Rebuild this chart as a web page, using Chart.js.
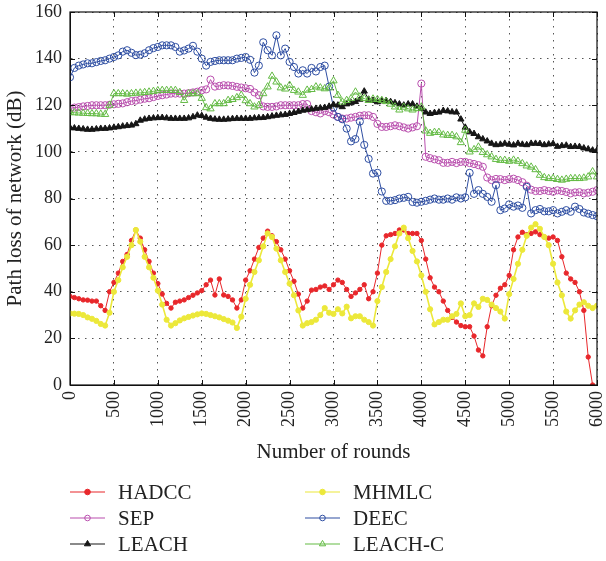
<!DOCTYPE html>
<html>
<head>
  <meta charset="utf-8">
  <title>Path loss of network</title>
  <script src="https://cdn.jsdelivr.net/npm/chart.js"></script>
  <style>
    html, body { margin: 0; padding: 0; background: #fff; }
    canvas { display: block; }
  </style>
</head>
<body>
  <canvas id="lossChart" width="606" height="561"></canvas>

  <script>
    // Sample rounds, one reading every 50 rounds
    const rounds = Array.from({ length: 121 }, (_, i) => i * 50);
    const xTicks = [0, 500, 1000, 1500, 2000, 2500, 3000, 3500, 4000, 4500, 5000, 5500, 6000];
    const yTicks = [0, 20, 40, 60, 80, 100, 120, 140, 160];

    const hadcc = [
      38, 37.5, 37, 36.5, 36.4, 36, 36, 34, 32, 40,
      44, 48, 53, 56, 62, 66.5, 63, 58, 53, 48,
      43.5, 39, 35, 33, 35.5, 36, 36.5, 37.5, 38.5, 39.5,
      40.5, 43, 45, 38.6, 45.5, 38.6, 38, 36.5, 33, 36.5,
      45, 49, 54, 59, 63, 66, 64, 61.5, 58, 54,
      49, 44.5, 39, 33, 36, 40.7, 41, 42, 42.5, 41,
      43, 45, 44, 41, 38, 39.5, 41, 43, 37, 40,
      48, 60, 64, 64.5, 65, 66.5, 66.5, 65, 65, 65,
      62, 54, 46, 42, 40, 36, 32, 29, 27, 25.5,
      25, 25, 21, 15, 12.5, 25, 34, 38.5, 41.5, 43,
      47, 58, 63.5, 65.5, 64.5, 65, 65.7, 64.5, 63.5, 63,
      63.5, 62, 55, 48, 45.5, 44, 40, 32, 12, 0
    ];

    const mhmlc = [
      30.7, 30.6, 30.5, 30, 29, 28.4, 27.5, 26.2, 25.5, 31,
      40, 45, 50.5, 55, 60, 66.5, 61.5, 55, 50.5, 46,
      40.5, 34.5, 28, 25.5, 26.5, 27.7, 28.6, 29.2, 29.8, 30.3,
      30.7, 30.5, 30, 29.5, 29, 28.3, 27.6, 26.8, 24.5, 29.3,
      37, 43, 48.5, 53.5, 59.5, 65, 63.5, 58.5, 53.5, 48.5,
      43.5, 38.5, 32, 25.5, 26.5, 27, 28, 30, 33, 31,
      30.5, 32.5, 30.7, 33.6, 28.6, 29.5, 29.5, 28, 27, 25.5,
      36, 42, 48.5, 54, 59.5, 65, 67.5, 63, 57.5, 53,
      47, 40, 32.5, 26, 27, 28, 28, 29.5, 30.5, 35,
      29.5, 30, 35, 33.5, 37, 36.5, 34.5, 33, 31.5, 28.5,
      39, 45.5, 52, 58, 64, 67.5, 69, 67, 63.5, 60,
      52, 44, 38.5, 31.5, 28.5, 32, 34.5, 35.5, 34, 33,
      34
    ];

    const sep = [
      118.6, 119, 119.2, 119.5, 119.7, 120, 120, 120, 120, 120.2,
      120.4, 120.6, 120.8, 121.3, 121.8, 122, 122.4, 122.8, 123, 123.5,
      124, 124.3, 124.6, 125, 125, 125, 125, 125.2, 125.5, 125.8,
      126.4, 126.8, 131, 128, 128.3, 128.6, 128.5, 128.3, 127.9, 127.6,
      127.3, 127, 125.5, 124.3, 119.5, 119.3, 119.3, 119.5, 120, 120,
      120, 120, 120, 120.5, 120.5, 117.5, 117, 116.5, 117.5, 117,
      116, 115, 114.3, 114.3, 114.7, 115, 115.5, 115.7, 115.7, 115,
      112, 110.7, 110.7, 111, 111.4, 111, 110.5, 110, 110.5, 111,
      129.3, 97.9, 97.3, 96.8, 96.4, 95.3, 95.3, 95.7, 95.2, 95.7,
      95.7, 95.2, 94.8, 94.3, 93.6, 89, 87.9, 88.4, 88.3, 87.9,
      88.3, 88.5, 87.9, 87, 85.5, 83.8, 83.2, 83.2, 83.6, 83.2,
      82.9, 83.5, 83.2, 82.8, 82.2, 82.6, 82.7, 82.2, 82.5, 82.9,
      83.6
    ];

    const deec = [
      132, 136, 137, 137.5, 138, 138, 138.5, 139, 139.3, 140,
      140.7, 141.4, 143, 143.6, 142.5, 141.5, 141.7, 142.3, 143.6, 144.5,
      145, 145.7, 145.7, 145.7, 145, 143, 143.5, 144.3, 145.5, 143,
      140, 137, 138.6, 139, 139.3, 139.3, 139.3, 139.3, 140, 140.3,
      140.7, 139.5, 134, 137, 147, 143.6, 141.4, 150, 141.4, 144.3,
      138.6, 136.4, 133.6, 135, 133.6, 136, 134.5, 136.4, 137, 128,
      119, 115, 114, 110, 104.5, 105.5, 113, 103, 97, 90.7,
      91, 83, 79, 79, 79.3, 80, 80.3, 80.7, 78.5, 78.2,
      78.6, 79, 79.5, 80, 79.5, 79.5, 80, 79.5, 80.5, 80,
      80.5, 91, 82, 83.6, 82, 80.7, 78.6, 85.7, 75, 75.7,
      77.5, 76.5, 77, 76, 85, 73.6, 75, 75.5, 74.5, 74.5,
      75, 73.6, 74.3, 75, 74.3, 76.5, 75.5, 74, 73.5, 72.9,
      72.4
    ];

    const leach = [
      110.4, 110.2, 110, 109.8, 109.6, 109.6, 109.8, 110, 110, 110.2,
      110.5, 110.7, 111, 111.2, 111.4, 112, 113.5, 114, 114.3, 114.5,
      114.6, 114.7, 114.5, 114.3, 114.3, 114.3, 114.3, 114.5, 115, 115.7,
      115.5, 114.8, 114.3, 114, 113.9, 113.9, 114, 114.2, 114.3, 114.3,
      114.3, 114.3, 114.5, 114.6, 114.7, 115, 115.3, 115.6, 115.8, 116,
      116.4, 116.8, 117.3, 117.8, 118, 118.3, 118.6, 118.8, 119, 119.5,
      120.3, 120, 119.3, 120.5, 121, 121.5, 122.5, 126, 122.5, 122,
      121.4, 121.8, 122, 121.5, 121, 120.5, 120, 120.5, 120.5, 119.5,
      118.5, 117, 116.4, 116.8, 117, 117.7, 117.5, 117.1, 117, 114,
      110.5, 108.5, 107.8, 106.4, 105.5, 104.6, 103.6, 103, 103.2, 103.6,
      103.2, 102.9, 103.6, 103.2, 103, 103.6, 103.6, 103.5, 103, 103.3,
      103.5, 102.3, 102.6, 102.8, 102.2, 102.3, 102.2, 101.6, 101.2, 100.7,
      100.7
    ];

    const leachC = [
      117, 116.8, 116.7, 116.6, 116.5, 116.4, 116.4, 116.2, 116.1, 120,
      125, 125, 125, 124.8, 125, 125.2, 125.3, 125.5, 125.7, 126,
      126.3, 126.4, 126.4, 126.4, 126.4, 125.5, 122.1, 125, 125, 125,
      123, 119, 118.5, 120.7, 120.7, 120.7, 122.1, 122.5, 123.3, 124.3,
      122, 120.7, 119.3, 120, 125, 127.9, 132.5, 130, 127.5, 127,
      128.6, 126.4, 125.7, 124.3, 126.5, 126.8, 127.9, 127.5, 127.1, 127.5,
      130.5, 124.3, 121.4, 122.1, 122.9, 125.7, 123.6, 122.9, 122.1, 122.7,
      122.5, 122.1, 121.6, 120.5, 119.3, 118, 119.2, 118.5, 118, 118.6,
      119.3, 109, 108, 108.4, 108.4, 107.3, 107.1, 107.1, 106.5, 104,
      109.3, 100, 101, 102.1, 99.8, 98.8, 97.9, 96.8, 96.4, 96.4,
      96, 96.5, 96, 95, 94, 93.5, 92.4, 90, 89, 88.6,
      88.6, 88.2, 87.9, 88.3, 88.6, 88.6, 88.6, 88.8, 89.3, 91.5,
      89.3
    ];

    const toPoints = vals => vals.map((v, i) => ({ x: rounds[i], y: v }));

    // Legend order runs across rows: HADCC, MHMLC / SEP, DEEC / LEACH, LEACH-C
    const series = [
      { label: 'HADCC', data: hadcc, color: '#e8272b', style: 'circle', radius: 2.2, filled: true, width: 1 },
      { label: 'MHMLC', data: mhmlc, color: '#ece83a', style: 'circle', radius: 2.6, filled: true, width: 1.6 },
      { label: 'SEP', data: sep, color: '#b94fae', style: 'circle', radius: 3.6, filled: false, width: 1 },
      { label: 'DEEC', data: deec, color: '#2e4ea2', style: 'circle', radius: 3.6, filled: false, width: 1 },
      { label: 'LEACH', data: leach, color: '#161616', style: 'triangle', radius: 3.6, filled: true, width: 1 },
      { label: 'LEACH-C', data: leachC, color: '#64bb45', style: 'triangle', radius: 4.2, filled: false, width: 1 }
    ];

    Chart.defaults.font.family = '"Liberation Serif", "DejaVu Serif", serif';
    Chart.defaults.color = '#222';

    // Box round the plot with inward tick marks on all four sides
    const frame = {
      id: 'frame',
      afterDraw(chart) {
        const { ctx, chartArea: a, scales } = chart;
        ctx.save();
        ctx.strokeStyle = '#111';
        ctx.lineWidth = 1.2;
        ctx.strokeRect(a.left, a.top, a.right - a.left, a.bottom - a.top);
        ctx.lineWidth = 1;
        ctx.beginPath();
        xTicks.forEach(v => {
          const x = Math.round(scales.x.getPixelForValue(v)) + 0.5;
          ctx.moveTo(x, a.bottom); ctx.lineTo(x, a.bottom - 5);
          ctx.moveTo(x, a.top); ctx.lineTo(x, a.top + 5);
        });
        yTicks.forEach(v => {
          const y = Math.round(scales.y.getPixelForValue(v)) + 0.5;
          ctx.moveTo(a.left, y); ctx.lineTo(a.left + 5, y);
          ctx.moveTo(a.right, y); ctx.lineTo(a.right - 5, y);
        });
        ctx.stroke();
        ctx.restore();
      }
    };

    function drawMarker(ctx, s, cx, cy, r) {
      ctx.beginPath();
      if (s.style === 'triangle') {
        ctx.moveTo(cx, cy - r);
        ctx.lineTo(cx - r * 0.87, cy + r * 0.5);
        ctx.lineTo(cx + r * 0.87, cy + r * 0.5);
        ctx.closePath();
      } else {
        ctx.arc(cx, cy, r, 0, Math.PI * 2);
      }
      if (s.filled) { ctx.fillStyle = s.color; ctx.fill(); }
      ctx.stroke();
    }

    // Two-column legend under the axis title
    const twoColLegend = {
      id: 'twoColLegend',
      afterDraw(chart) {
        const ctx = chart.ctx;
        const cols = [70, 305];
        const rows = [492, 518, 544];
        ctx.save();
        ctx.font = '21px "Liberation Serif", "DejaVu Serif", serif';
        ctx.textBaseline = 'middle';
        series.forEach((s, i) => {
          const x = cols[i % 2];
          const y = rows[Math.floor(i / 2)];
          ctx.strokeStyle = s.color;
          ctx.lineWidth = 1.2;
          ctx.beginPath();
          ctx.moveTo(x, y); ctx.lineTo(x + 35, y);
          ctx.stroke();
          ctx.lineWidth = 1;
          drawMarker(ctx, s, x + 17.5, y, s.style === 'triangle' ? 3.6 : 2.8);
          ctx.fillStyle = '#222';
          ctx.fillText(s.label, x + 48, y + 1);
        });
        ctx.restore();
      }
    };

    new Chart(document.getElementById('lossChart'), {
      type: 'line',
      data: {
        datasets: series.map((s, i) => ({
          label: s.label,
          data: toPoints(s.data),
          borderColor: s.color,
          borderWidth: s.width,
          pointStyle: s.style,
          pointRadius: s.radius,
          pointBorderWidth: 1,
          pointBorderColor: s.color,
          pointBackgroundColor: s.filled ? s.color : 'rgba(0,0,0,0)',
          order: series.length - i
        }))
      },
      options: {
        responsive: false,
        animation: false,
        devicePixelRatio: 1,
        layout: { padding: { left: 0, right: 9, top: 12, bottom: 96 } },
        elements: { line: { tension: 0 } },
        plugins: {
          legend: { display: false },
          tooltip: { enabled: false }
        },
        scales: {
          x: {
            type: 'linear',
            min: 0,
            max: 6000,
            afterBuildTicks: s => { s.ticks = xTicks.map(v => ({ value: v })); },
            // fixed axis band; the end labels may overhang into the padding
            afterFit: s => { s.height = 80; s.paddingLeft = 0; s.paddingRight = 0; },
            grid: { color: '#555', lineWidth: 1, drawTicks: false },
            border: { display: true, color: '#111', width: 1, dash: [1.5, 5.5] },
            ticks: {
              autoSkip: false,
              minRotation: 90,
              maxRotation: 90,
              padding: 6,
              font: { size: 18 },
              callback: v => String(v)
            },
            title: { display: true, text: 'Number of rounds', font: { size: 21 }, padding: 0 }
          },
          y: {
            min: 0,
            max: 160,
            afterBuildTicks: s => { s.ticks = yTicks.map(v => ({ value: v })); },
            afterFit: s => { s.width = 70; s.paddingTop = 0; s.paddingBottom = 0; },
            grid: { color: '#555', lineWidth: 1, drawTicks: false },
            border: { display: true, color: '#111', width: 1, dash: [1.5, 5.5] },
            ticks: { padding: 8, font: { size: 18 }, callback: v => String(v) },
            title: {
              display: true,
              text: 'Path loss of network (dB)',
              font: { size: 21 },
              padding: { top: 3, bottom: 0 }
            }
          }
        }
      },
      plugins: [frame, twoColLegend]
    });
  </script>
</body>
</html>
